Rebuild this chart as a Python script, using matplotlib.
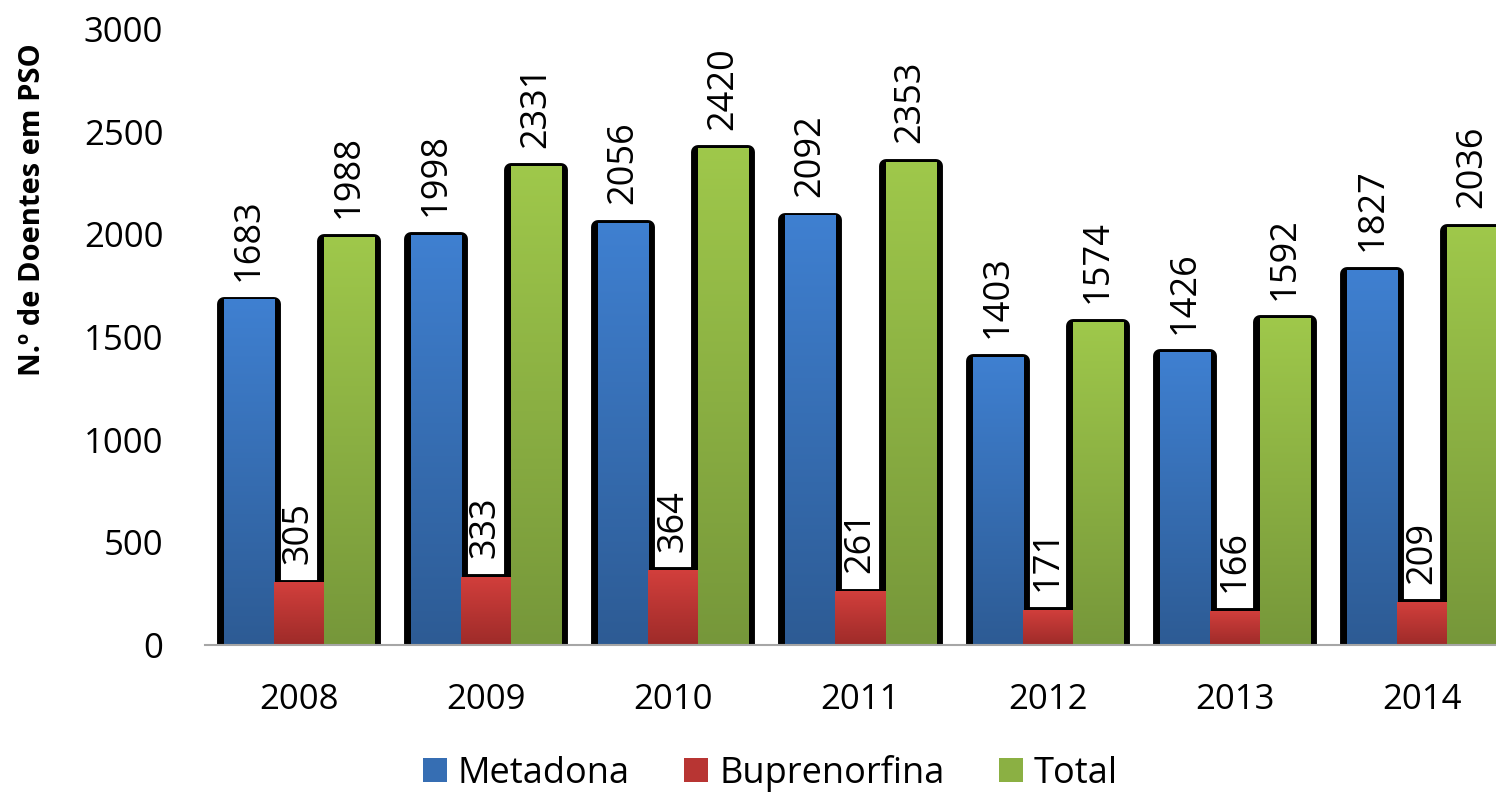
import numpy as np
import matplotlib
matplotlib.use('Agg')
import matplotlib.pyplot as plt
from matplotlib.colors import LinearSegmentedColormap
from matplotlib.patches import Patch

# dados
anos = ['2008', '2009', '2010', '2011', '2012', '2013', '2014']
metadona = [1683, 1998, 2056, 2092, 1403, 1426, 1827]
buprenorfina = [305, 333, 364, 261, 171, 166, 209]
total = [1988, 2331, 2420, 2353, 1574, 1592, 2036]

series_nomes = ['Metadona', 'Buprenorfina', 'Total']
# cor do topo e da base de cada série (gradiente)
cores = [('#3f80d1', '#2d5b94'), ('#d23f3c', '#9e2b29'), ('#9fc84b', '#76973a')]

plt.rcParams['font.family'] = ['Open Sans', 'DejaVu Sans']

fig = plt.figure(figsize=(14.96, 7.93), dpi=100)
ax = fig.add_axes([0.137, 0.1866, 0.8764, 0.7768])

x = np.arange(len(anos))
w = 0.267
series = [metadona, buprenorfina, total]
offsets = [-w, 0, w]

# sombras pretas primeiro
for vals, off in zip(series, offsets):
    ax.bar(x + off, np.array(vals) - 20, width=w, color='black', edgecolor='black',
           linewidth=10, joinstyle='round', zorder=1)

# barras com gradiente
grad = np.linspace(0, 1, 256).reshape(-1, 1)
for vals, off, (c_top, c_bot) in zip(series, offsets, cores):
    cmap = LinearSegmentedColormap.from_list('g', [c_bot, c_top])
    bars = ax.bar(x + off, vals, width=w, facecolor='none', edgecolor='none', zorder=2)
    for b in bars:
        x0, y0 = b.get_x(), b.get_y()
        im = ax.imshow(grad, cmap=cmap, origin='lower', aspect='auto',
                       extent=(x0, x0 + b.get_width(), y0, y0 + b.get_height()), zorder=2)
        im.set_clip_path(b)
    for xi, v in zip(x + off, vals):
        ax.text(xi, v + 90, str(v), rotation=90, ha='center', va='bottom',
                fontsize=26, zorder=3)

ax.set_xlim(-0.5, 6.5)
ax.set_ylim(0, 3000)
ax.set_yticks(range(0, 3001, 500))
ax.set_xticks(x)
ax.set_xticklabels(anos)
ax.tick_params(axis='y', length=0, pad=30, labelsize=25)
ax.tick_params(axis='x', length=0, pad=27, labelsize=25)
for s in ['top', 'right', 'left']:
    ax.spines[s].set_visible(False)
ax.spines['bottom'].set_color('#a6a6a6')
ax.spines['bottom'].set_linewidth(1.5)
ax.spines['bottom'].set_zorder(4)

fig.text(33 / 1496, 1 - 210 / 793, 'N.º de Doentes em PSO', rotation=90,
         ha='center', va='center', fontsize=21, fontweight='bold')

handles = [Patch(facecolor=LinearSegmentedColormap.from_list('g', [b, t])(0.5))
           for t, b in cores]
fig.legend(handles, series_nomes, loc='center', bbox_to_anchor=(0.515, 0.025),
           ncol=3, frameon=False, fontsize=26, handlelength=0.67, handleheight=0.67,
           handletextpad=0.3, columnspacing=1.5)

plt.savefig('out.png', dpi=100)
